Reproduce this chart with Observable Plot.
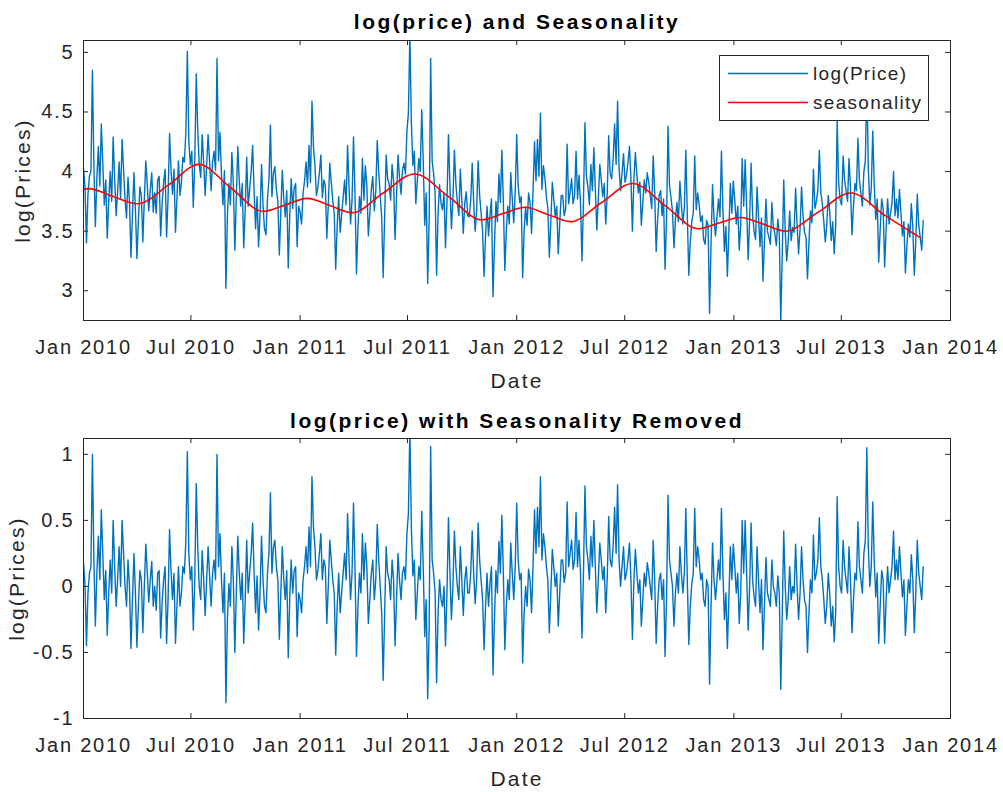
<!DOCTYPE html>
<html><head><meta charset="utf-8">
<script src="https://cdn.jsdelivr.net/npm/d3@7"></script>
<script src="https://cdn.jsdelivr.net/npm/@observablehq/plot@0.6"></script>
<style>
body{margin:0;background:#fff;}
#chart{width:1003px;height:792px;overflow:hidden;}
#chart svg{display:block;}
</style></head><body><div id="chart"></div>
<script>
// ---- data ----
const startDate = "2010-01-01";   // first observation
const stepDays = 5;               // spacing of the main samples; *Mid arrays sit half a step later
const logPrice = [
4.03,3.40,3.96,4.85,3.54,4.21,4.40,3.72,3.44,4.00,
4.29,3.63,4.08,4.27,3.76,3.95,3.28,3.99,3.27,3.87,
3.41,4.09,3.67,3.99,3.82,3.93,3.46,3.91,3.45,4.32,
3.81,3.49,4.09,3.91,4.08,5.01,4.06,3.70,4.82,4.06,
4.31,3.80,4.31,3.84,4.17,4.95,4.33,3.72,3.02,3.90,
4.16,3.34,4.21,3.71,3.36,4.12,3.85,4.22,3.52,3.37,
4.06,3.52,3.77,4.39,3.99,3.85,3.30,4.01,3.62,3.19,
3.94,3.86,3.37,3.66,3.82,4.08,4.22,4.59,4.05,3.87,
4.14,3.93,3.44,4.07,3.76,3.18,3.79,3.64,3.93,4.22,
3.56,4.29,3.14,3.79,4.11,4.05,3.46,3.85,3.67,4.26,
3.80,3.11,4.14,3.90,4.06,3.43,4.14,3.81,4.07,4.34,
5.15,4.05,3.73,4.11,4.52,3.55,3.06,4.95,3.98,3.13,
3.89,3.68,3.36,4.31,3.52,4.18,3.74,4.02,3.48,3.83,
3.62,4.07,3.50,4.09,3.65,3.12,3.71,3.64,2.95,3.75,
3.98,4.18,3.17,3.71,3.99,3.57,4.31,3.74,3.11,3.70,
3.82,3.48,4.25,4.27,4.49,4.05,3.79,3.28,3.91,3.62,
3.31,3.80,3.63,4.23,3.83,3.73,4.17,3.97,3.25,4.41,
3.87,4.06,4.20,3.51,4.06,3.79,3.56,4.30,3.94,4.40,
4.59,3.84,4.15,3.97,4.21,3.50,4.16,3.82,3.55,3.93,
3.99,3.80,4.13,3.33,3.80,3.63,3.18,4.38,3.78,3.36,
3.74,3.92,3.56,4.18,3.13,3.58,4.13,3.82,3.58,3.43,
3.59,2.81,3.89,3.46,3.77,4.17,3.33,3.12,3.90,3.92,
3.56,3.34,4.11,4.10,3.26,4.07,3.50,3.87,3.37,3.08,
3.77,3.45,3.74,3.48,3.60,2.74,3.93,3.25,3.67,3.53,
3.86,3.31,3.87,3.49,3.10,3.67,4.02,3.75,4.18,3.73,
3.41,3.80,3.42,3.31,4.43,3.76,4.13,3.84,4.11,3.47,
3.90,4.28,3.82,4.00,4.78,3.72,4.34,3.60,3.24,3.77,
3.20,3.77,3.65,4.00,3.77,3.85,3.46,3.15,3.56,3.73,
3.13,3.81,3.45,3.59
];
const logPriceMid = [
3.87,3.81,4.00,4.05,3.94,3.88,4.07,3.93,3.75,3.75,
3.94,3.83,3.77,4.02,3.61,3.75,3.64,3.68,3.59,3.80,
3.77,3.88,3.85,3.66,3.65,3.96,3.73,4.02,3.78,4.02,
4.02,3.78,3.80,4.12,4.33,4.25,4.17,4.09,4.35,3.95,
4.08,4.06,4.08,4.08,4.01,4.09,3.97,4.01,3.64,3.72,
3.90,3.78,3.92,3.90,3.68,3.71,4.00,3.83,3.79,3.64,
3.72,3.47,3.93,3.79,4.04,3.75,3.66,3.77,3.84,3.63,
3.69,3.90,3.71,3.56,3.92,3.87,3.91,4.21,3.80,3.99,
3.78,3.88,3.72,3.91,3.65,3.55,3.49,3.78,3.72,3.87,
3.76,3.81,3.53,3.65,3.76,3.88,3.65,3.96,3.83,4.00,
3.61,3.63,3.94,3.76,3.92,3.79,3.95,4.01,3.98,4.49,
4.41,4.17,3.92,4.00,4.09,3.82,3.60,4.09,3.82,3.65,
3.73,3.82,3.75,3.88,3.76,3.90,3.63,3.76,3.74,3.63,
3.76,3.74,3.67,3.80,3.50,3.46,3.46,3.77,3.38,3.58,
3.74,3.75,3.50,3.56,3.77,3.83,3.88,3.79,3.50,3.55,
3.74,3.83,3.92,3.96,3.85,3.95,3.69,3.58,3.77,3.71,
3.56,3.80,3.69,3.73,3.94,3.80,3.77,3.73,3.75,3.96,
3.72,3.84,3.85,3.77,3.93,3.90,3.81,3.98,4.10,4.06,
4.03,3.99,3.91,4.08,3.94,3.94,3.97,3.91,3.74,3.82,
3.91,3.69,3.82,3.60,3.84,3.77,3.60,3.88,3.67,3.60,
3.58,3.72,3.70,3.63,3.41,3.65,3.68,3.72,3.63,3.39,
3.55,3.40,3.61,3.62,3.62,3.68,3.54,3.49,3.65,3.76,
3.71,3.56,3.71,3.70,3.59,3.64,3.43,3.62,3.61,3.41,
3.50,3.39,3.53,3.38,3.47,3.31,3.50,3.41,3.42,3.49,
3.55,3.52,3.63,3.45,3.41,3.57,3.69,3.85,3.82,3.58,
3.55,3.66,3.58,3.54,3.91,3.72,3.93,3.75,3.86,3.71,
3.84,3.93,3.71,4.09,4.03,3.86,3.89,3.77,3.51,3.69,
3.52,3.56,3.74,3.63,3.61,3.65,3.58,3.37,3.45,3.53,
3.42,3.55,3.34
];
const residual = [
0.18,-0.45,0.10,1.00,-0.30,0.38,0.58,-0.10,-0.37,0.20,
0.50,-0.15,0.30,0.50,0.00,0.20,-0.47,0.25,-0.46,0.12,
-0.35,0.32,-0.12,0.19,0.00,0.10,-0.39,0.05,-0.43,0.43,
-0.10,-0.43,0.15,-0.05,0.10,1.02,0.05,-0.33,0.78,0.00,
0.27,-0.22,0.30,-0.15,0.20,1.00,0.40,-0.20,-0.88,0.02,
0.30,-0.50,0.38,-0.10,-0.43,0.35,0.10,0.48,-0.20,-0.33,
0.38,-0.15,0.10,0.71,0.30,0.15,-0.40,0.30,-0.10,-0.54,
0.20,0.12,-0.38,-0.10,0.05,0.30,0.45,0.83,0.30,0.12,
0.40,0.20,-0.28,0.35,0.05,-0.52,0.10,-0.05,0.25,0.55,
-0.10,0.63,-0.53,0.10,0.40,0.33,-0.28,0.10,-0.10,0.47,
0.00,-0.71,0.30,0.05,0.20,-0.45,0.25,-0.10,0.15,0.40,
1.20,0.08,-0.25,0.15,0.57,-0.38,-0.85,1.06,0.10,-0.73,
0.05,-0.15,-0.45,0.52,-0.25,0.42,0.00,0.30,-0.22,0.15,
-0.05,0.42,-0.13,0.48,0.05,-0.48,0.10,0.02,-0.67,0.12,
0.34,0.54,-0.48,0.05,0.33,-0.10,0.63,0.05,-0.58,0.00,
0.13,-0.20,0.58,0.60,0.83,0.40,0.15,-0.35,0.28,0.00,
-0.30,0.20,0.03,0.64,0.25,0.13,0.56,0.35,-0.39,0.76,
0.20,0.38,0.50,-0.20,0.33,0.05,-0.20,0.53,0.15,0.60,
0.77,0.00,0.30,0.10,0.33,-0.40,0.28,-0.05,-0.30,0.10,
0.18,0.00,0.35,-0.43,0.05,-0.10,-0.53,0.69,0.10,-0.30,
0.10,0.30,-0.05,0.59,-0.44,0.02,0.59,0.30,0.05,-0.10,
0.05,-0.74,0.33,-0.10,0.20,0.59,-0.25,-0.47,0.30,0.32,
-0.05,-0.28,0.50,0.50,-0.33,0.48,-0.08,0.30,-0.20,-0.48,
0.22,-0.10,0.20,-0.05,0.08,-0.78,0.42,-0.25,0.15,0.00,
0.32,-0.25,0.30,-0.10,-0.50,0.05,0.39,0.10,0.52,0.05,
-0.28,0.10,-0.30,-0.42,0.68,0.00,0.35,0.05,0.30,-0.35,
0.10,0.49,0.05,0.25,1.05,0.00,0.64,-0.08,-0.43,0.12,
-0.43,0.15,0.05,0.42,0.20,0.30,-0.08,-0.37,0.05,0.24,
-0.35,0.35,0.00,0.15
];
const residualMid = [
0.02,-0.05,0.15,0.20,0.10,0.05,0.25,0.12,-0.05,-0.05,
0.15,0.05,0.00,0.25,-0.15,0.00,-0.10,-0.05,-0.15,0.05,
0.00,0.10,0.05,-0.15,-0.18,0.12,-0.12,0.15,-0.10,0.12,
0.10,-0.15,-0.15,0.15,0.35,0.25,0.15,0.05,0.30,-0.10,
0.05,0.05,0.08,0.10,0.05,0.15,0.05,0.10,-0.25,-0.15,
0.05,-0.05,0.10,0.10,-0.10,-0.05,0.25,0.10,0.08,-0.05,
0.05,-0.20,0.25,0.10,0.35,0.05,-0.05,0.05,0.12,-0.10,
-0.05,0.15,-0.05,-0.20,0.15,0.10,0.15,0.45,0.05,0.25,
0.05,0.15,0.00,0.20,-0.05,-0.15,-0.20,0.10,0.05,0.20,
0.10,0.15,-0.15,-0.05,0.05,0.15,-0.10,0.20,0.05,0.20,
-0.20,-0.20,0.10,-0.10,0.05,-0.10,0.05,0.10,0.05,0.55,
0.45,0.20,-0.05,0.05,0.15,-0.10,-0.30,0.20,-0.05,-0.20,
-0.10,0.00,-0.05,0.10,0.00,0.15,-0.10,0.05,0.05,-0.05,
0.10,0.10,0.05,0.20,-0.10,-0.15,-0.15,0.15,-0.25,-0.05,
0.10,0.10,-0.15,-0.10,0.10,0.15,0.20,0.10,-0.20,-0.15,
0.05,0.15,0.25,0.30,0.20,0.30,0.05,-0.05,0.15,0.10,
-0.05,0.20,0.10,0.15,0.35,0.20,0.15,0.10,0.10,0.30,
0.05,0.15,0.15,0.05,0.20,0.15,0.05,0.20,0.30,0.25,
0.20,0.15,0.05,0.20,0.05,0.05,0.10,0.05,-0.10,0.00,
0.10,-0.10,0.05,-0.15,0.10,0.05,-0.10,0.20,0.00,-0.05,
-0.05,0.10,0.10,0.05,-0.15,0.10,0.15,0.20,0.10,-0.15,
0.00,-0.15,0.05,0.05,0.05,0.10,-0.05,-0.10,0.05,0.15,
0.10,-0.05,0.10,0.10,0.00,0.05,-0.15,0.05,0.05,-0.15,
-0.05,-0.15,0.00,-0.15,-0.05,-0.20,0.00,-0.10,-0.10,-0.05,
0.00,-0.05,0.05,-0.15,-0.20,-0.05,0.05,0.20,0.15,-0.10,
-0.15,-0.05,-0.15,-0.20,0.15,-0.05,0.15,-0.05,0.05,-0.10,
0.05,0.15,-0.05,0.35,0.30,0.15,0.20,0.10,-0.15,0.05,
-0.10,-0.05,0.15,0.05,0.05,0.10,0.05,-0.15,-0.05,0.05,
-0.05,0.10,-0.10
];
const seasonDates = ["2010-01-01","2010-01-10","2010-02-15","2010-04-02","2010-05-25","2010-07-14","2010-09-07","2010-10-31","2010-12-07","2011-01-13","2011-02-20","2011-03-30","2011-05-21","2011-07-13","2011-09-08","2011-11-03","2011-12-10","2012-01-15","2012-02-22","2012-04-01","2012-05-23","2012-07-14","2012-09-08","2012-11-02","2012-12-08","2013-01-12","2013-02-19","2013-03-29","2013-05-23","2013-07-17","2013-09-13","2013-11-11"];
const seasonValues = [3.849,3.857,3.80,3.73,3.89,4.06,3.86,3.665,3.72,3.775,3.715,3.655,3.82,3.98,3.79,3.595,3.65,3.70,3.64,3.58,3.74,3.90,3.71,3.52,3.57,3.615,3.56,3.50,3.66,3.82,3.63,3.445];
const xTickDates = ["2010-01-01","2010-07-01","2011-01-01","2011-07-01","2012-01-01","2012-07-01","2013-01-01","2013-07-01","2014-01-01"];
const topYTicks = [3, 3.5, 4, 4.5, 5];
const bottomYTicks = [-1, -0.5, 0, 0.5, 1];
const titles = ["log(price) and Seasonality", "log(price) with Seasonality Removed"];
const xLabel = "Date";
const yLabel = "log(Prices)";
const legendLabels = ["log(Price)", "seasonality"];

// ---- build tables ----
const parse = s => new Date(s + "T00:00:00Z");
const t0 = parse(startDate);
function series(main, mid) {
  const out = [];
  main.forEach((v, i) => {
    out.push({date: d3.utcHour.offset(t0, stepDays * i * 24), value: v});
    if (i < mid.length) out.push({date: d3.utcHour.offset(t0, (stepDays * i + stepDays / 2) * 24), value: mid[i]});
  });
  return out;
}
const priceData = series(logPrice, logPriceMid);
const residData = series(residual, residualMid);
const seasonData = seasonDates.map((d, i) => ({date: parse(d), value: seasonValues[i]}));
const xTicks = xTickDates.map(parse);

const FONT = "'Liberation Sans', Arial, Helvetica, sans-serif";
const BLUE = "#0072BD", RED = "#FF0000", INK = "#262626";
const W = 1003, ML = 83, MR = 53;
const BLUE_W = 1.4, RED_W = 1.6;

function panel({height, marginTop, marginBottom, yDomain, yTicks, title, lines, titleDy, ylabelDx}) {
  const fw = W - ML - MR, fh = height - marginTop - marginBottom;
  return Plot.plot({
    width: W, height, marginLeft: ML, marginRight: MR, marginTop, marginBottom,
    style: {fontFamily: FONT, fontSize: "20px", color: INK, background: "#fff", overflow: "visible"},
    x: {type: "utc", domain: [xTicks[0], xTicks[xTicks.length - 1]], label: null},
    y: {domain: yDomain, label: null},
    marks: [
      ...lines,
      Plot.tickX(xTicks, {x: d => d, insetTop: fh - 5, stroke: INK}),
      Plot.tickX(xTicks, {x: d => d, insetBottom: fh - 5, stroke: INK}),
      Plot.tickY(yTicks, {y: d => d, insetRight: fw - 5, stroke: INK}),
      Plot.tickY(yTicks, {y: d => d, insetLeft: fw - 5, stroke: INK}),
      Plot.frame({stroke: INK}),
      Plot.axisX(xTicks, {tickSize: 0, tickPadding: 19, tickFormat: d3.utcFormat("%b %Y"), fill: INK}),
      Plot.axisY(yTicks, {tickSize: 0, tickPadding: 9, tickFormat: d => String(d), fill: INK}),
      Plot.text([title], {text: d => d, frameAnchor: "top", lineAnchor: "middle", textAnchor: "middle", dy: titleDy, fontWeight: "bold", fontSize: 21, fill: "#000"}),
      Plot.text([xLabel], {text: d => d, frameAnchor: "bottom", lineAnchor: "middle", textAnchor: "middle", dy: 60.5, fontSize: 21, fill: INK}),
      Plot.text([yLabel], {text: d => d, frameAnchor: "left", lineAnchor: "middle", textAnchor: "middle", dx: ylabelDx, rotate: -90, fontSize: 21, fill: INK})
    ]
  });
}

const topSvg = panel({
  height: 400, marginTop: 40, marginBottom: 80,
  yDomain: [2.75, 5.1], yTicks: topYTicks, title: titles[0], titleDy: -18, ylabelDx: -60,
  lines: [
    Plot.line(priceData, {x: "date", y: "value", stroke: BLUE, strokeWidth: BLUE_W, clip: true}),
    Plot.line(seasonData, {x: "date", y: "value", stroke: RED, strokeWidth: RED_W, curve: "monotone-x", clip: true})
  ]
});
const bottomSvg = panel({
  height: 392, marginTop: 38, marginBottom: 74,
  yDomain: [-1, 1.12], yTicks: bottomYTicks, title: titles[1], titleDy: -17, ylabelDx: -66,
  lines: [
    Plot.line(residData, {x: "date", y: "value", stroke: BLUE, strokeWidth: BLUE_W, clip: true})
  ]
});

function spacing(svg) {
  d3.select(svg).selectAll("text").each(function() {
    const t = d3.select(this).text();
    let ls = "1.8px";
    if (titles.includes(t)) ls = "2.5px";
    else if (t === xLabel || t === yLabel) ls = "2.2px";
    d3.select(this).attr("letter-spacing", ls);
  });
}
spacing(topSvg); spacing(bottomSvg);

// legend (top panel, upper right)
const lg = d3.select(topSvg).append("g").attr("font-family", FONT).attr("font-size", 19).attr("letter-spacing", "1.3px");
lg.append("rect").attr("x", 719.5).attr("y", 55.5).attr("width", 209).attr("height", 65)
  .attr("fill", "#fff").attr("stroke", INK).attr("stroke-width", 1);
[[BLUE, 73.5, BLUE_W], [RED, 102.5, RED_W]].forEach(([c, y, w], i) => {
  lg.append("line").attr("x1", 728).attr("x2", 808).attr("y1", y).attr("y2", y).attr("stroke", c).attr("stroke-width", w);
  lg.append("text").attr("x", 813).attr("y", y).attr("dy", "0.35em").attr("text-anchor", "start").attr("fill", INK).text(legendLabels[i]);
});

const chart = document.getElementById("chart");
chart.appendChild(topSvg);
chart.appendChild(bottomSvg);
</script></body></html>
